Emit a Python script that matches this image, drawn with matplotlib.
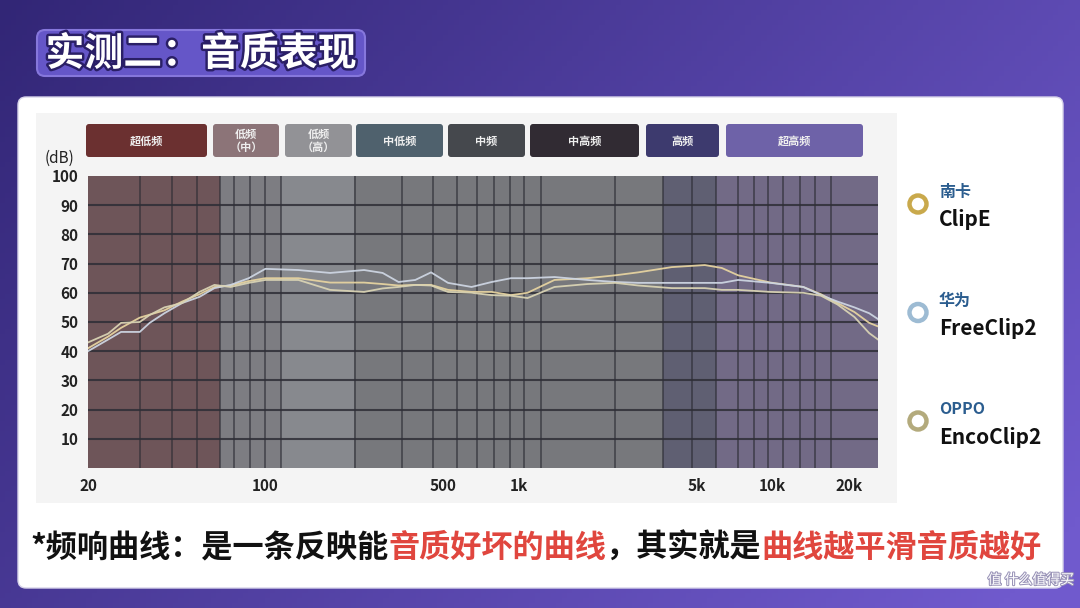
import numpy as np
import matplotlib
matplotlib.use("Agg")
import matplotlib.pyplot as plt
from matplotlib.patches import FancyBboxPatch, Rectangle, Circle
import matplotlib.patheffects as pe

plt.rcParams["font.family"] = ["Noto Sans CJK SC", "DejaVu Sans"]

# ---- data ----
freqs = [20, 24, 27, 32, 35, 40, 47, 55, 63, 73, 86, 100, 135, 180, 245, 290, 335,
         390, 450, 525, 650, 780, 930, 1080, 1380, 1860, 2400, 2950, 4000, 5400,
         6300, 7300, 9800, 13200, 15500, 18000, 21000, 24000, 26000]

nanka_clipe = [41, 45, 48, 51.5, 52.5, 54, 57, 59.5, 62, 62.5, 64, 65, 65, 63.5, 63.5,
               63, 62.5, 62.7, 62.7, 61, 60.3, 60.3, 59.2, 60, 64.4, 65, 66, 67, 68.8,
               69.5, 68.5, 66, 63.5, 62, 59.5, 56.5, 53.4, 49.7, 48.5]
huawei_freeclip2 = [40, 44, 46.6, 46.6, 49.7, 53, 56.5, 58.6, 61.6, 62.7, 65, 68.2, 67.8,
                    66.8, 67.8, 66.8, 63.7, 64.4, 67, 63.4, 62, 63.7, 65, 65, 65.4, 64.4,
                    63.7, 63.4, 63.4, 63.4, 63.4, 64.4, 63.4, 62, 59.2, 57, 55, 53, 51]
oppo_encoclip2 = [43, 46, 49.7, 50, 52.4, 55, 56.5, 60.3, 62.7, 62, 63.4, 64.4, 64.4, 61,
                  60.3, 61.5, 62, 62.7, 62.5, 60.3, 60, 59.2, 59, 58.2, 62, 63, 63.4, 62.5,
                  61.6, 61.6, 61, 61, 60.3, 60, 59, 56, 51.7, 46.2, 44]

series_brand = ["南卡", "华为", "OPPO"]
series_model = ["ClipE", "FreeClip2", "EncoClip2"]
series_color = ["#e6d3a0", "#cdd5e2", "#d9d3b4"]
ring_color = ["#c9a94c", "#9dbbd3", "#b3aa7c"]

band_edges = [20, 66, 115, 224, 3700, 6000, 26000]
band_fill = ["#6e5559", "#7d7d82", "#87898e", "#77787c", "#5f5f72", "#726a86"]

grid_freqs = [32, 43, 54, 66, 75, 87, 100, 115, 225, 345, 460, 570, 680, 800, 920,
              1050, 1220, 2400, 3700, 4800, 6000, 7300, 8400, 9600, 11000, 12800,
              14700, 16900]

band_names = ["超低频", "低频\n（中）", "低频\n（高）", "中低频", "中频", "中高频", "高频", "超高频"]
band_box_color = ["#6b3030", "#8c7478", "#929296", "#4f616d", "#45484d", "#312b33",
                  "#3d3a6e", "#6e62a8"]
band_box_px = [(86, 207), (213, 279), (285, 352), (356, 443), (448, 525), (530, 639),
               (646, 719), (726, 863)]

yticks = [10, 20, 30, 40, 50, 60, 70, 80, 90, 100]
xticks = [20, 100, 500, 1000, 5000, 10000, 20000]
xtick_labels = ["20", "100", "500", "1k", "5k", "10k", "20k"]

caption = [("*频响曲线：是一条反映能", "#111111"), ("音质好坏的曲线", "#e0463e"),
           ("，其实就是", "#111111"), ("曲线越平滑音质越好", "#e0463e")]

W, H = 1080, 608
fig = plt.figure(figsize=(W / 100, H / 100), dpi=100)

# background layer in pixel coordinates
bg = fig.add_axes([0, 0, 1, 1], zorder=0)
bg.set_xlim(0, W)
bg.set_ylim(H, 0)
bg.axis("off")

xx, yy = np.meshgrid(np.linspace(0, 1, 200), np.linspace(0, 1, 120))
t = np.clip(0.7 * xx + 0.35 * yy, 0, 1)[..., None]
c0 = np.array([50, 38, 118]) / 255
c1 = np.array([112, 90, 205]) / 255
bg.imshow(c0 + (c1 - c0) * t, extent=[0, W, H, 0], aspect="auto", zorder=0)

# title box
bg.add_patch(FancyBboxPatch((37, 30), 328, 46, boxstyle="round,pad=0,rounding_size=8",
                            fc="#6556c8", ec="#8677dc", lw=1.5, zorder=1))
bg.text(201, 54, "实测二：音质表现", ha="center", va="center", color="white",
        fontsize=28, fontweight="heavy", zorder=2,
        path_effects=[pe.withStroke(linewidth=3.5, foreground="#2a1f66")])

# white card and chart panel
bg.add_patch(FancyBboxPatch((18, 97), 1045, 491, boxstyle="round,pad=0,rounding_size=8",
                            fc="white", ec="#d8d4ea", lw=1, zorder=1))
bg.add_patch(Rectangle((36, 113), 861, 390, fc="#f4f4f4", ec="none", zorder=1))

# band name boxes
for name, col, (x0, x1) in zip(band_names, band_box_color, band_box_px):
    bg.add_patch(FancyBboxPatch((x0, 124), x1 - x0, 33,
                                boxstyle="round,pad=0,rounding_size=3",
                                fc=col, ec="none", zorder=2))
    bg.text((x0 + x1) / 2, 141, name, ha="center", va="center", color="#eeeeee",
            fontsize=8, fontweight="bold", linespacing=0.95, zorder=3)

bg.text(60, 158, "(dB)", ha="center", va="center", fontsize=11, color="#222222")

# legend
for i, (brand, model, rc) in enumerate(zip(series_brand, series_model, ring_color)):
    cy = 204 + i * 108.5
    bg.add_patch(Circle((918, cy), 8.5, fc="none", ec=rc, lw=3.2, zorder=2))
    bg.text(939, cy - 12, brand, ha="left", va="center", fontsize=11.5,
            fontweight="bold", color="#2b5d8f", zorder=2)
    bg.text(939, cy + 16, model, ha="left", va="center", fontsize=15,
            fontweight="bold", color="#111111", zorder=2)

# caption with mixed colours, sized to span the card like the reference
fig.canvas.draw()
renderer = fig.canvas.get_renderer()
probe = [bg.text(0, 0, txt, fontsize=24, fontweight="bold") for txt, _ in caption]
total = sum(p.get_window_extent(renderer).width for p in probe)
for p in probe:
    p.remove()
fs = 24 * 1015 / total
x = 30
for txt, col in caption:
    tt = bg.text(x, 548, txt, ha="left", va="center", fontsize=fs,
                 fontweight="bold", color=col, zorder=2)
    x += tt.get_window_extent(renderer).width

bg.text(1074, 580, "值 什么值得买", ha="right", va="center", fontsize=10,
        color="white", zorder=3,
        path_effects=[pe.withStroke(linewidth=1.5, foreground="#9a94b8")])

# ---- frequency response chart ----
ax = fig.add_axes([88 / W, 1 - 468 / H, 790 / W, 292 / H], zorder=1)
ax.set_xscale("log")
ax.set_xlim(20, 26000)
ax.set_ylim(0, 100)

for lo, hi, col in zip(band_edges[:-1], band_edges[1:], band_fill):
    ax.axvspan(lo, hi, color=col, lw=0, zorder=0)

for f in grid_freqs:
    ax.axvline(f, color="#2c2c34", lw=1.1, alpha=0.75, zorder=1)
for yv in yticks[:-1]:
    ax.axhline(yv, color="#2e2e36", lw=1.5, alpha=0.85, zorder=1)

for vals, col in zip([nanka_clipe, huawei_freeclip2, oppo_encoclip2], series_color):
    ax.plot(freqs, vals, color=col, lw=1.3, alpha=0.95, zorder=3)

ax.set_yticks(yticks)
ax.set_yticklabels([str(v) for v in yticks])
ax.set_xticks(xticks)
ax.set_xticklabels(xtick_labels)
ax.xaxis.set_minor_locator(matplotlib.ticker.NullLocator())
ax.tick_params(length=0, labelsize=11, labelcolor="#222222", pad=7)
for lab in ax.get_xticklabels() + ax.get_yticklabels():
    lab.set_fontweight("bold")
for sp in ax.spines.values():
    sp.set_visible(False)

fig.savefig("out.png", dpi=100)
